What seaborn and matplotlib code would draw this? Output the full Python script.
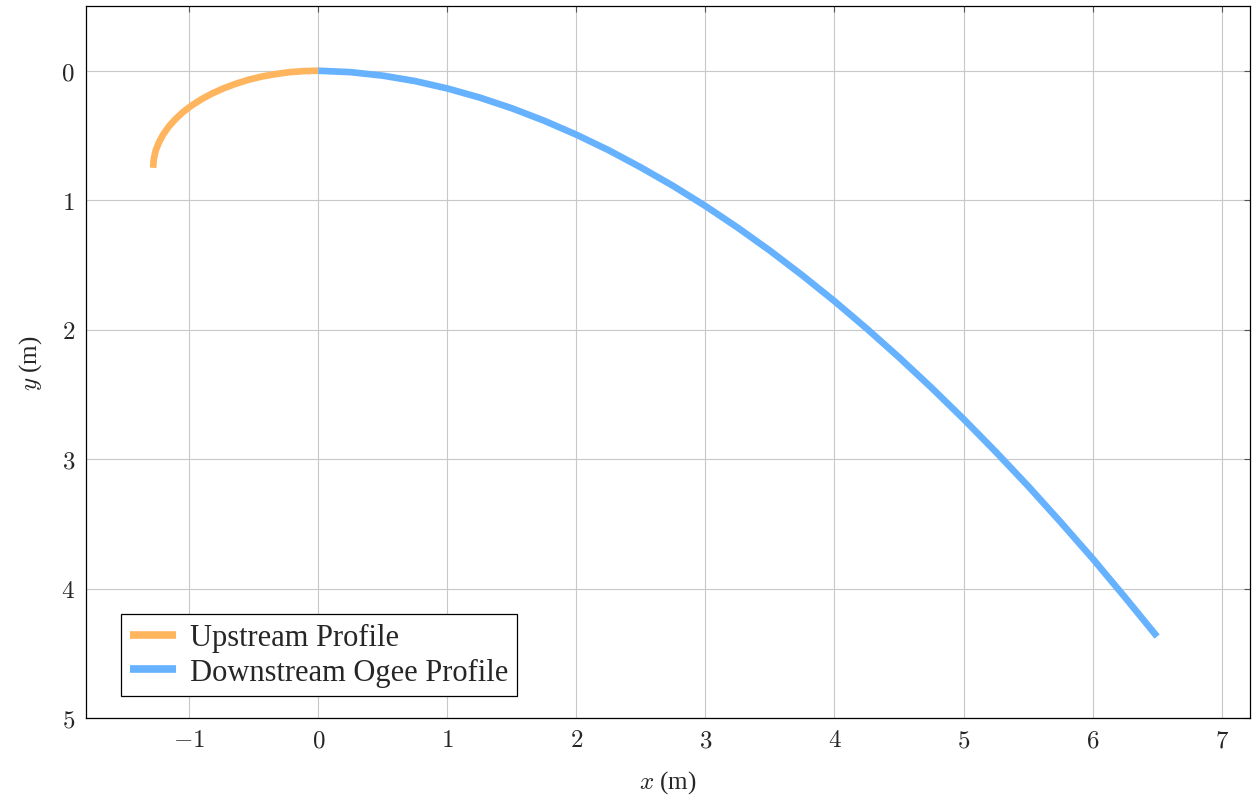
import numpy as np
import pandas as pd
import matplotlib
matplotlib.use('Agg')
import matplotlib.pyplot as plt
import seaborn as sns

# =====================
# DATA
# =====================
up_x = [-1.280, -1.275, -1.261, -1.236, -1.203, -1.160, -1.108, -1.049, -0.980,
        -0.905, -0.823, -0.734, -0.640, -0.541, -0.438, -0.331, -0.222, -0.112, 0.0]
up_y = [0.750, 0.685, 0.620, 0.556, 0.494, 0.433, 0.375, 0.320, 0.268,
        0.220, 0.176, 0.136, 0.101, 0.070, 0.045, 0.026, 0.011, 0.003, 0.0]

down_x = [0.0, 0.25, 0.5, 0.75, 1.0, 1.25, 1.5, 1.75, 2.0, 2.25, 2.5, 2.75, 3.0,
          3.25, 3.5, 3.75, 4.0, 4.25, 4.5, 4.75, 5.0, 5.25, 5.5, 5.75, 6.0,
          6.25, 6.5]
down_y = [0.0, 0.011, 0.038, 0.080, 0.137, 0.207, 0.290, 0.386, 0.494, 0.614,
          0.747, 0.890, 1.045, 1.212, 1.390, 1.580, 1.780, 1.992, 2.214, 2.447,
          2.690, 2.944, 3.208, 3.484, 3.768, 4.066, 4.371]

x_ticks = [-1, 0, 1, 2, 3, 4, 5, 6, 7]
y_ticks = [0, 1, 2, 3, 4, 5]

up_df = pd.DataFrame({'x': up_x, 'y': up_y})
down_df = pd.DataFrame({'x': down_x, 'y': down_y})

# =====================
# STYLE
# =====================
sns.set_style('whitegrid')
plt.rcParams['font.family'] = ['Liberation Serif', 'DejaVu Serif']
plt.rcParams['mathtext.fontset'] = 'cm'

orange = '#FFB55E'
blue = '#66B2FF'

fig = plt.figure(figsize=(12.59, 8.03), dpi=100)
ax = fig.add_axes([86 / 1259, 1 - 719 / 803, (1250 - 86) / 1259, (719 - 7) / 803])

sns.lineplot(data=up_df, x='x', y='y', color=orange, linewidth=4.8,
             sort=False, estimator=None, label='Upstream Profile', ax=ax,
             solid_capstyle='butt', solid_joinstyle='round')
sns.lineplot(data=down_df, x='x', y='y', color=blue, linewidth=4.8,
             sort=False, estimator=None, label='Downstream Ogee Profile', ax=ax,
             solid_capstyle='butt', solid_joinstyle='round')

ax.set_xlim(-1.8, 7.22)
ax.set_ylim(5, -0.5)

ax.set_xticks(x_ticks)
ax.set_xticklabels([f'${v}$' for v in x_ticks])
ax.set_yticks(y_ticks)
ax.set_yticklabels([f'${v}$' for v in y_ticks])

ax.grid(True, color='#c8c8c8', linewidth=0.8)
for spine in ax.spines.values():
    spine.set_color('black')
    spine.set_linewidth(0.9)
ax.tick_params(direction='in', length=4, width=0.8, color='#555555',
               labelsize=18, top=True, right=True, pad=8)

ax.set_xlabel('$x$ (m)', fontsize=18, labelpad=12)
ax.set_ylabel('$y$ (m)', fontsize=18, labelpad=12)

leg = ax.legend(loc='lower left', bbox_to_anchor=(0.03, 0.031), borderaxespad=0,
                fontsize=22, frameon=True, fancybox=False, edgecolor='black',
                framealpha=1, handlelength=1.5, handletextpad=0.45,
                borderpad=0.3, labelspacing=0.18)
leg.get_frame().set_linewidth(0.9)
for h in leg.get_lines():
    h.set_linewidth(5.5)
    h.set_solid_capstyle('butt')

plt.savefig('out.png', dpi=100, facecolor='white')
